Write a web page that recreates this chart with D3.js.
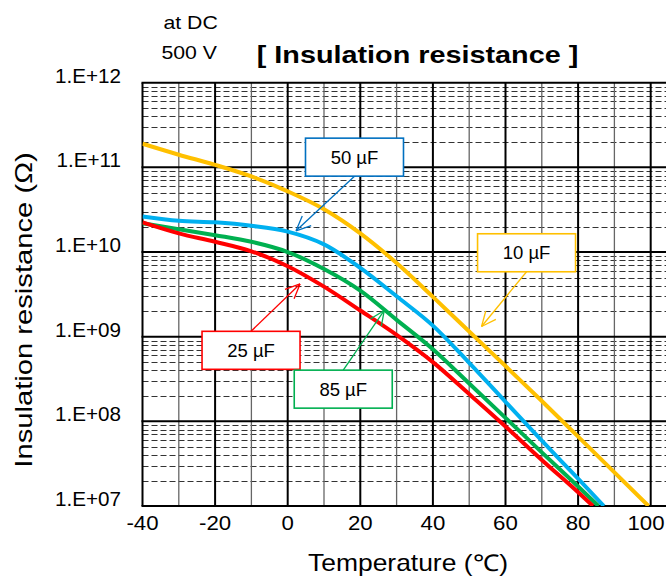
<!DOCTYPE html>
<html>
<head>
<meta charset="utf-8">
<script src="https://cdn.jsdelivr.net/npm/d3@7"></script>
<style>
  body { margin: 0; background: #fff; }
  svg { display: block; font-family: "Liberation Sans", Arial, sans-serif; }
</style>
</head>
<body>
<svg id="chart" width="666" height="576"></svg>
<script>
// data ------------------------------------------------------
var tempC = [-40, -30, -20, -10, 0, 10, 20, 30, 40, 50, 60, 70, 80];

// resistance in ohms at each tempC, last point = where the curve hits 1E+7
var r10uF = [1.9e11, 1.41e11, 1.07e11, 7.8e10, 5.2e10, 3.2e10, 1.66e10, 7.4e9, 2.95e9, 1.15e9, 4.5e8, 1.74e8, 6.6e7];
var r50uF = [2.63e10, 2.34e10, 2.24e10, 2.04e10, 1.74e10, 1.23e10, 6.5e9, 3.0e9, 1.35e9, 4.9e8, 1.7e8, 5.9e7, 2.1e7];
var r85uF = [2.19e10, 1.86e10, 1.58e10, 1.32e10, 1.0e10, 6.3e9, 3.5e9, 1.58e9, 7.1e8, 2.8e8, 1.1e8, 4.3e7, 1.7e7];
var r25uF = [2.24e10, 1.66e10, 1.32e10, 1.02e10, 6.8e9, 3.9e9, 2.04e9, 1.05e9, 5.0e8, 2.1e8, 8.7e7, 3.5e7, 1.45e7];
var endTemp = [99.4, 87.1, 85.6, 84.1]; // 10, 50, 85, 25 uF
var endR = 1e7;

var seriesNames = ["10 µF", "50 µF", "85 µF", "25 µF"];
var seriesColors = ["#FFC000", "#00B0F0", "#00B050", "#FF0000"];

var xTicks = [-40, -20, 0, 20, 40, 60, 80, 100];
var yTicks = [1e7, 1e8, 1e9, 1e10, 1e11, 1e12];
var yTickLabels = ["1.E+07", "1.E+08", "1.E+09", "1.E+10", "1.E+11", "1.E+12"];

// callouts: box centre and arrow tip in data units
var callouts = [
  { label: "50 µF", color: "#0070C0", bx: 18.4, by: 1.32e11, tx: 2.3, ty: 1.78e10 },
  { label: "10 µF", color: "#FFC000", bx: 65.8, by: 9.8e9, tx: 53.4, ty: 1.32e9 },
  { label: "25 µF", color: "#FF0000", bx: -10.1, by: 6.9e8, tx: 3.4, ty: 4.2e9 },
  { label: "85 µF", color: "#00B050", bx: 15.3, by: 2.4e8, tx: 26.6, ty: 2.04e9 }
];

// layout ----------------------------------------
var svg = d3.select("#chart");
// the grid runs on to 120 degC, past the right edge of the picture
var plotLeft = 142.5, plotTop = 82.7, plotBottom = 506, plotRight = 142.5 + 160 * 3.63;

var x = d3.scaleLinear().domain([-40, 120]).range([plotLeft, plotRight]);
var y = d3.scaleLog().domain([1e7, 1e12]).range([plotBottom, plotTop]);

// stretched text helper (the source text is wider than Arial)
function label(g, px, py, str, size, sx, anchor, weight, rot) {
  return g.append("text")
    .attr("transform", "translate(" + px + "," + py + ")" + (rot ? " rotate(" + rot + ")" : "") + " scale(" + sx + ",1)")
    .attr("text-anchor", anchor || "start")
    .attr("font-size", size)
    .attr("font-weight", weight || "normal")
    .attr("fill", "#000")
    .text(str);
}

svg.append("defs").append("clipPath").attr("id", "plotclip")
  .append("rect")
  .attr("x", plotLeft).attr("y", plotTop)
  .attr("width", plotRight - plotLeft).attr("height", plotBottom - plotTop);

// Grid ----------------------------------------
var grid = svg.append("g");

// minor dashed lines 2..9 in every decade
var minor = [];
for (var d = 7; d < 12; d++) {
  for (var k = 2; k <= 9; k++) minor.push(k * Math.pow(10, d));
}
grid.selectAll("line.minor")
  .data(minor)
  .enter().append("line")
  .attr("class", "minor")
  .attr("x1", plotLeft).attr("x2", plotRight)
  .attr("y1", function(v) { return Math.round(y(v)) + 0.5; })
  .attr("y2", function(v) { return Math.round(y(v)) + 0.5; })
  .attr("stroke", "#333")
  .attr("stroke-width", 1)
  .attr("stroke-dasharray", "6,3");

// vertical lines every 10 degrees, heavier every 20
grid.selectAll("line.vert")
  .data(d3.range(-40, 121, 10))
  .enter().append("line")
  .attr("class", "vert")
  .attr("x1", function(t) { return x(t); }).attr("x2", function(t) { return x(t); })
  .attr("y1", plotTop).attr("y2", plotBottom)
  .attr("stroke", function(t) { return t % 20 === 0 ? "#000" : "#666"; })
  .attr("stroke-width", function(t) { return t % 20 === 0 ? 2 : 1.3; });

// decade lines
grid.selectAll("line.decade")
  .data(yTicks)
  .enter().append("line")
  .attr("class", "decade")
  .attr("x1", plotLeft - 1).attr("x2", plotRight)
  .attr("y1", function(v) { return y(v); }).attr("y2", function(v) { return y(v); })
  .attr("stroke", "#000")
  .attr("stroke-width", 2);

// Curves ----------------------------------------
var allSeries = [r10uF, r50uF, r85uF, r25uF];
var line = d3.line()
  .x(function(p) { return x(p[0]); })
  .y(function(p) { return y(p[1]); })
  .curve(d3.curveMonotoneX);

svg.append("g")
  .attr("clip-path", "url(#plotclip)")
  .selectAll("path")
  .data(allSeries)
  .enter().append("path")
  .attr("d", function(vals, i) {
    var pts = tempC.map(function(t, j) { return [t, vals[j]]; });
    pts.push([endTemp[i], endR]);
    return line(pts);
  })
  .attr("fill", "none")
  .attr("stroke", function(vals, i) { return seriesColors[i]; })
  .attr("stroke-width", 4)
  .attr("stroke-linecap", "butt");

// Callouts ----------------------------------------
var boxW = 98, boxH = 38;
var co = svg.append("g").selectAll("g").data(callouts).enter().append("g");

co.each(function(c) {
  var g = d3.select(this);
  var cx = x(c.bx), cy = y(c.by);
  var tx = x(c.tx), ty = y(c.ty);
  var sy = ty > cy ? cy + boxH / 2 : cy - boxH / 2;
  var sx = cx;
  // arrow shaft
  g.append("line")
    .attr("x1", sx).attr("y1", sy).attr("x2", tx).attr("y2", ty)
    .attr("stroke", c.color).attr("stroke-width", 1.3);
  // open arrow head
  var ang = Math.atan2(sy - ty, sx - tx);
  var len = 16, spread = 0.42;
  [ang - spread, ang + spread].forEach(function(a) {
    g.append("line")
      .attr("x1", tx).attr("y1", ty)
      .attr("x2", tx + len * Math.cos(a)).attr("y2", ty + len * Math.sin(a))
      .attr("stroke", c.color).attr("stroke-width", 1.3);
  });
  g.append("rect")
    .attr("x", cx - boxW / 2).attr("y", cy - boxH / 2)
    .attr("width", boxW).attr("height", boxH)
    .attr("fill", "#fff")
    .attr("stroke", c.color).attr("stroke-width", 1.6);
  g.append("text")
    .attr("x", cx).attr("y", cy + 6.5)
    .attr("text-anchor", "middle")
    .attr("font-size", 18.5)
    .attr("fill", "#000")
    .text(c.label);
});

// Axes labels ----------------------------------------
var ax = svg.append("g");
xTicks.forEach(function(t) {
  // last label sits against the picture edge
  label(ax, Math.min(x(t), 646), 530, t, 21, 1.06, "middle");
});
yTicks.forEach(function(v, i) {
  label(ax, 121, y(v), yTickLabels[i], 19.5, 1.06, "end");
});

label(ax, 408, 571, "Temperature (℃)", 23, 1.15, "middle");
label(ax, 31.5, 310, "Insulation resistance (Ω)", 23, 1.27, "middle", "normal", -90);

// Titles ----------------------------------------
label(ax, 417.5, 63, "[ Insulation resistance ]", 24, 1.2, "middle", "bold");
label(ax, 163.5, 29, "at DC", 17.7, 1.2, "start");
label(ax, 161.5, 59, "500 V", 17.7, 1.2, "start");
</script>
</body>
</html>
